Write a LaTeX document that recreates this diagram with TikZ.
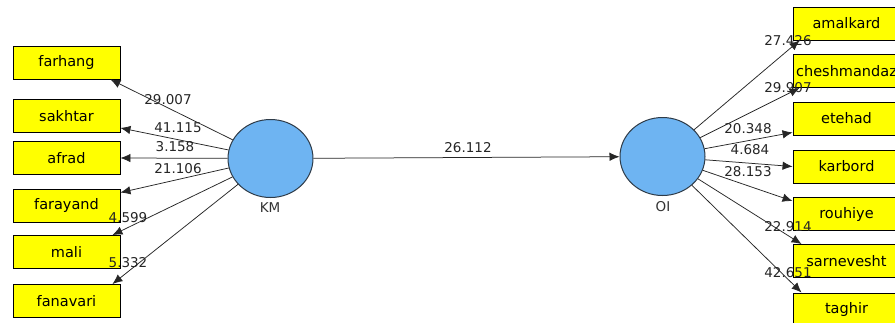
\documentclass[tikz,border=0pt]{standalone}
\usepackage{fontspec}
\setmainfont{DejaVu Sans}
\usepackage{xcolor}
\usepackage{tikz}
\usetikzlibrary{arrows.meta,shapes.geometric}

\definecolor{lvblue}{HTML}{6EB4F2}
\definecolor{lvline}{HTML}{2E3B48}
\definecolor{mvyellow}{HTML}{FFFF00}

\tikzset{
  latent/.style={draw=lvline, line width=1pt, fill=lvblue, ellipse, minimum width=85pt, minimum height=78pt, inner sep=0pt},
  manifest/.style={draw=black, line width=0.9pt, fill=mvyellow, minimum width=107pt, minimum height=33pt,
    text width=103pt, align=center, inner sep=2pt, font=\fontsize{14.5}{16}\selectfont},
  path/.style={-{Latex[length=10pt,width=8.5pt]}, draw=black!85, line width=0.75pt},
  tval/.style={font=\fontsize{13.5}{15}\selectfont, text=black!85, inner sep=0pt},
  lvname/.style={font=\fontsize{13.5}{15}\selectfont, text=black!80, inner sep=0pt}
}

\begin{document}
\begin{tikzpicture}[x=1pt, y=-1pt]
  \clip (0,0) rectangle (895,322);
  \fill[white] (0,0) rectangle (895,322);

  \node[latent] (KM) at (270.5,158.5) {};
  \node[lvname] at (270,208) {KM};
  \node[latent] (OI) at (662.5,156.5) {};
  \node[lvname] at (663,207) {OI};

  \node[manifest] (farhang) at (66.5,62.5) {farhang};
  \node[manifest] (sakhtar) at (66.5,116) {sakhtar};
  \node[manifest] (afrad) at (66.5,158) {afrad};
  \node[manifest] (farayand) at (66.5,205.5) {farayand};
  \node[manifest] (mali) at (66.5,252) {mali};
  \node[manifest] (fanavari) at (66.5,301) {fanavari};

  \node[manifest] (amalkard) at (846.5,23.5) {amalkard};
  \node[manifest] (cheshmandaz) at (846.5,71) {cheshmandaz};
  \node[manifest] (etehad) at (846.5,118.5) {etehad};
  \node[manifest] (karbord) at (846.5,166.5) {karbord};
  \node[manifest] (rouhiye) at (846.5,214) {rouhiye};
  \node[manifest] (sarnevesht) at (846.5,261) {sarnevesht};
  \node[manifest] (taghir) at (846.5,309.5) {taghir};

  \draw[path] (KM) -- ([xshift=-10pt]farhang.south east);
  \draw[path] (KM) -- ([yshift=5pt]sakhtar.south east);
  \draw[path] (KM) -- (afrad.east);
  \draw[path] (KM) -- ([yshift=-4pt]farayand.north east);
  \draw[path] (KM) -- ([xshift=-8pt]mali.north east);
  \draw[path] (KM) -- ([xshift=-8pt]fanavari.north east);

  \draw[path] (KM) -- (OI);

  \draw[path] (OI) -- ([xshift=7pt]amalkard.south west);
  \draw[path] (OI) -- ([xshift=7pt]cheshmandaz.south west);
  \draw[path] (OI) -- ([yshift=3pt]etehad.south west);
  \draw[path] (OI) -- (karbord.west);
  \draw[path] (OI) -- ([yshift=-4pt]rouhiye.north west);
  \draw[path] (OI) -- ([xshift=9pt]sarnevesht.north west);
  \draw[path] (OI) -- ([xshift=9pt]taghir.north west);

  \node[tval] at (168,100) {29.007};
  \node[tval] at (178,128) {41.115};
  \node[tval] at (175,147) {3.158};
  \node[tval] at (178,169) {21.106};
  \node[tval] at (128,218) {4.599};
  \node[tval] at (128,263) {5.332};

  \node[tval] at (468,148) {26.112};

  \node[tval] at (788,41) {27.426};
  \node[tval] at (788,88) {29.907};
  \node[tval] at (748,129) {20.348};
  \node[tval] at (750,150) {4.684};
  \node[tval] at (748,172) {28.153};
  \node[tval] at (788,227) {22.914};
  \node[tval] at (788,273) {42.651};
\end{tikzpicture}
\end{document}
